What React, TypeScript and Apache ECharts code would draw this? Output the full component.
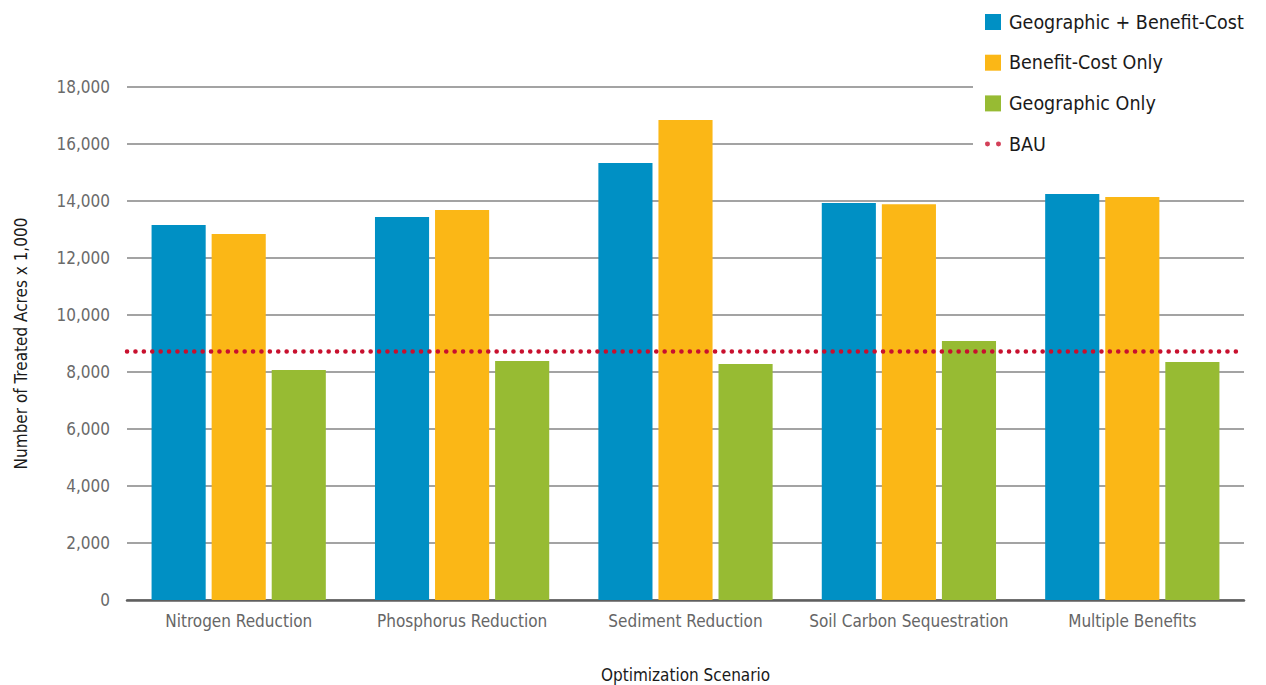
import React, { useEffect, useRef } from "react";
import * as echarts from "echarts";

const categories = [
  "Nitrogen Reduction",
  "Phosphorus Reduction",
  "Sediment Reduction",
  "Soil Carbon Sequestration",
  "Multiple Benefits",
];
const geoBenefitCost = [13160, 13440, 15330, 13930, 14250];
const benefitCostOnly = [12840, 13680, 16840, 13890, 14140];
const geographicOnly = [8070, 8390, 8280, 9090, 8350];
const bauLevel = 8740;
const yTicks = [0, 2000, 4000, 6000, 8000, 10000, 12000, 14000, 16000, 18000];

const FONT = '"Liberation Sans Narrow", "DejaVu Sans Condensed", "Roboto Condensed", Roboto, sans-serif';
const BLUE = "#0090c4";
const ORANGE = "#fbb716";
const GREEN = "#97bb33";
const RED = "#c8102e";

// two round dots, used as the BAU legend swatch
const DOTS_ICON =
  "path://M0,2.6a2.6,2.6 0 1,0 5.2,0a2.6,2.6 0 1,0 -5.2,0M11.5,2.6a2.6,2.6 0 1,0 5.2,0a2.6,2.6 0 1,0 -5.2,0";

export default function App() {
  const ref = useRef<HTMLDivElement>(null);

  useEffect(() => {
    if (!ref.current) return;
    const chart = echarts.init(ref.current, undefined, { renderer: "svg" });
    const bar = (name: string, data: number[], color: string) => ({
      name,
      type: "bar",
      data,
      itemStyle: { color },
      barGap: "11%",
      barCategoryGap: "22%",
    });
    chart.setOption({
      animation: false,
      backgroundColor: "#ffffff",
      textStyle: { fontFamily: FONT },
      grid: { left: 127, right: 22, top: 87, bottom: 85, outerBoundsMode: "none", containLabel: false },
      legend: {
        orient: "vertical",
        left: 973,
        top: 7,
        z: 10,
        padding: [5, 14, 8, 12],
        backgroundColor: "#ffffff",
        itemWidth: 16,
        itemHeight: 16,
        itemGap: 20.7,
        textStyle: { fontFamily: FONT, fontSize: 19.5, color: "#1a1a1a", padding: [0, 0, 0, 3] },
        data: [
          { name: "Geographic + Benefit-Cost", icon: "rect" },
          { name: "Benefit-Cost Only", icon: "rect" },
          { name: "Geographic Only", icon: "rect" },
          { name: "BAU", icon: DOTS_ICON, itemStyle: { color: RED } },
        ],
      },
      xAxis: {
        type: "category",
        data: categories,
        name: "Optimization Scenario",
        nameLocation: "middle",
        nameGap: 66,
        nameTextStyle: { fontFamily: FONT, fontSize: 17, color: "#1a1a1a" },
        axisLine: { lineStyle: { color: "#5f5f5f", width: 2.5 } },
        axisTick: { show: false },
        axisLabel: { fontFamily: FONT, fontSize: 17, color: "#666666", margin: 12, interval: 0 },
      },
      yAxis: {
        type: "value",
        min: 0,
        max: 18000,
        interval: 2000,
        name: "Number of Treated Acres x 1,000",
        nameLocation: "middle",
        nameGap: 98,
        nameRotate: 90,
        nameTextStyle: { fontFamily: FONT, fontSize: 17, color: "#1a1a1a" },
        axisLine: { show: false },
        axisTick: { show: false },
        axisLabel: {
          fontFamily: FONT,
          fontSize: 17,
          color: "#6a6a6a",
          margin: 17,
          formatter: (v: number) => (yTicks.includes(v) ? v.toLocaleString("en-US") : ""),
        },
        splitLine: { lineStyle: { color: "#858585", width: 1.5 } },
      },
      series: [
        bar("Geographic + Benefit-Cost", geoBenefitCost, BLUE),
        bar("Benefit-Cost Only", benefitCostOnly, ORANGE),
        bar("Geographic Only", geographicOnly, GREEN),
        {
          name: "BAU",
          type: "scatter",
          data: [],
          itemStyle: { color: RED },
          markLine: {
            silent: true,
            symbol: ["none", "none"],
            label: { show: false },
            lineStyle: { color: RED, width: 4.5, type: [0.1, 8.3], cap: "round" },
            data: [{ yAxis: bauLevel }],
          },
        },
      ],
    });
    return () => chart.dispose();
  }, []);

  return (
    <div
      ref={ref}
      style={{ position: "fixed", left: 0, top: 0, width: 1266, height: 685, background: "#fff" }}
    />
  );
}
